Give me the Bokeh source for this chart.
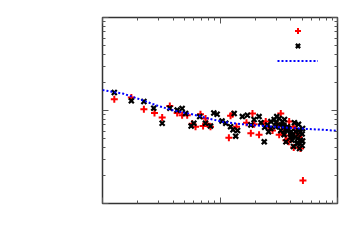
from bokeh.plotting import figure
from bokeh.models import (LogAxis, FixedTicker, CustomJSTickFormatter, Legend, LegendItem,
                          Range1d, LogScale)
from bokeh.embed import file_html
from bokeh.resources import INLINE

# series A (red +)
red_x = [1.26, 1.76, 2.25, 2.77, 3.22, 3.74, 4.32, 4.76, 5.26, 5.80, 6.19, 7.18, 7.78, 8.30,
         6.82, 7.53, 12.3, 11.9, 12.8, 13.8, 18.3, 19.5, 21.5, 24.5, 25.9, 28.0, 30.9, 32.9,
         35.1, 36.4, 38.8, 31.9, 18.9, 42.4, 36.1, 38.5, 42.4, 47.0, 48.4, 50.8, 23.5, 16.8,
         45.0, 39.8, 44.0, 33.5]
red_y = [1.32, 1.38, 1.03, 0.94, 0.84, 1.12, 0.94, 0.89, 0.89, 0.72, 0.67, 0.68, 0.72, 0.67,
         0.91, 0.82, 0.88, 0.51, 0.91, 0.67, 0.57, 0.71, 0.55, 0.76, 0.67, 0.61, 0.70, 0.93,
         0.64, 0.48, 0.76, 0.55, 0.93, 0.67, 0.54, 0.46, 0.40, 0.52, 0.39, 0.177, 0.72, 0.74,
         0.57, 0.50, 0.62, 0.58]

# series B (black x)
blk_x = [1.26, 1.76, 2.25, 2.73, 3.22, 3.74, 4.32, 4.76, 5.09, 5.68, 5.99, 6.72, 7.52, 8.30,
         8.86, 9.45, 10.4, 11.2, 12.3, 12.9, 13.6, 13.2, 14.1, 15.5, 17.1, 18.3, 19.5, 21.5,
         22.3, 23.8, 25.4, 27.1, 28.9, 29.8, 31.9, 32.9, 34.0, 35.1, 36.4, 37.5, 40.1, 37.2,
         39.8, 43.9, 46.9, 48.4, 45.4, 41.1, 50.0, 50.0, 34.9, 43.0, 46.6, 50.4, 41.5, 38.0,
         47.5, 42.2, 45.8, 35.4, 30.4, 25.9, 44.0, 48.0, 50.5, 46.0, 40.0, 36.0, 33.0, 30.0,
         27.0, 24.0]
blk_y = [1.56, 1.27, 1.25, 1.06, 0.73, 1.06, 1.01, 1.05, 0.93, 0.68, 0.73, 0.86, 0.73, 0.68,
         0.94, 0.91, 0.77, 0.73, 0.67, 0.62, 0.53, 0.93, 0.61, 0.86, 0.89, 0.70, 0.80, 0.86,
         0.74, 0.46, 0.70, 0.76, 0.80, 0.67, 0.82, 0.61, 0.76, 0.55, 0.46, 0.67, 0.59, 0.61,
         0.56, 0.59, 0.61, 0.48, 0.44, 0.48, 0.56, 0.42, 0.69, 0.74, 0.71, 0.64, 0.53, 0.64,
         0.39, 0.41, 0.50, 0.80, 0.86, 0.59, 0.52, 0.58, 0.47, 0.45, 0.52, 0.62, 0.70, 0.74,
         0.64, 0.66]

# fitted curve (blue dotted)
fit_x = [1.0, 1.52, 2.11, 2.92, 4.02, 5.6, 7.68, 10.8, 14.9, 20.7, 28.5, 39.8, 54.5, 76.0, 100.0]
fit_y = [1.66, 1.51, 1.31, 1.13, 1.00, 0.92, 0.83, 0.75, 0.716, 0.69, 0.67, 0.65, 0.634, 0.62, 0.605]

x_major = [1, 10, 100]
x_minor = [2, 3, 4, 5, 6, 7, 8, 9, 20, 30, 40, 50, 60, 70, 80, 90]
y_major = [0.1, 1, 10]
y_minor = [0.2, 0.3, 0.4, 0.5, 0.6, 0.7, 0.8, 0.9, 2, 3, 4, 5, 6, 7, 8, 9]

p = figure(width=348, height=244, x_axis_type=None, y_axis_type=None,
           x_range=Range1d(1, 100), y_range=Range1d(0.1, 10),
           output_backend="svg", toolbar_location=None,
           min_border_left=102, min_border_right=11, min_border_top=17, min_border_bottom=41)
p.x_scale = LogScale()
p.y_scale = LogScale()
p.grid.visible = False
p.outline_line_color = "#333333"
p.outline_line_width = 1.5
p.background_fill_color = "white"
p.border_fill_color = "white"

empty = CustomJSTickFormatter(code="return ''")

def make_axis(major, minor):
    a = LogAxis(formatter=empty, ticker=FixedTicker(ticks=major, minor_ticks=minor))
    a.axis_line_color = None
    a.major_tick_in = 6
    a.major_tick_out = 0
    a.minor_tick_in = 3
    a.minor_tick_out = 0
    a.major_tick_line_color = "#555555"
    a.minor_tick_line_color = "#555555"
    a.major_label_standoff = 0
    a.major_label_text_font_size = "1px"
    return a

p.add_layout(make_axis(x_major, x_minor), "below")
p.add_layout(make_axis(x_major, x_minor), "above")
p.add_layout(make_axis(y_major, y_minor), "left")
p.add_layout(make_axis(y_major, y_minor), "right")

r_red = p.scatter(red_x, red_y, marker="cross", size=7, line_color="#ff0000", line_width=2)
r_blk = p.scatter(blk_x, blk_y, marker="x", size=7, line_color="#000000", line_width=2.2)
r_fit = p.line(fit_x, fit_y, line_color="#0000ff", line_width=2, line_dash="2 2")

legend = Legend(items=[LegendItem(label="", renderers=[r_red]),
                       LegendItem(label="", renderers=[r_blk]),
                       LegendItem(label="", renderers=[r_fit])],
                location=(175, 135.5), glyph_width=41, glyph_height=15,
                label_height=15, label_width=0, label_standoff=0,
                padding=0, margin=0, spacing=0,
                border_line_color=None, background_fill_alpha=0,
                label_text_font_size="8px")
p.add_layout(legend)

open("out.html", "w").write(file_html(p, INLINE))
